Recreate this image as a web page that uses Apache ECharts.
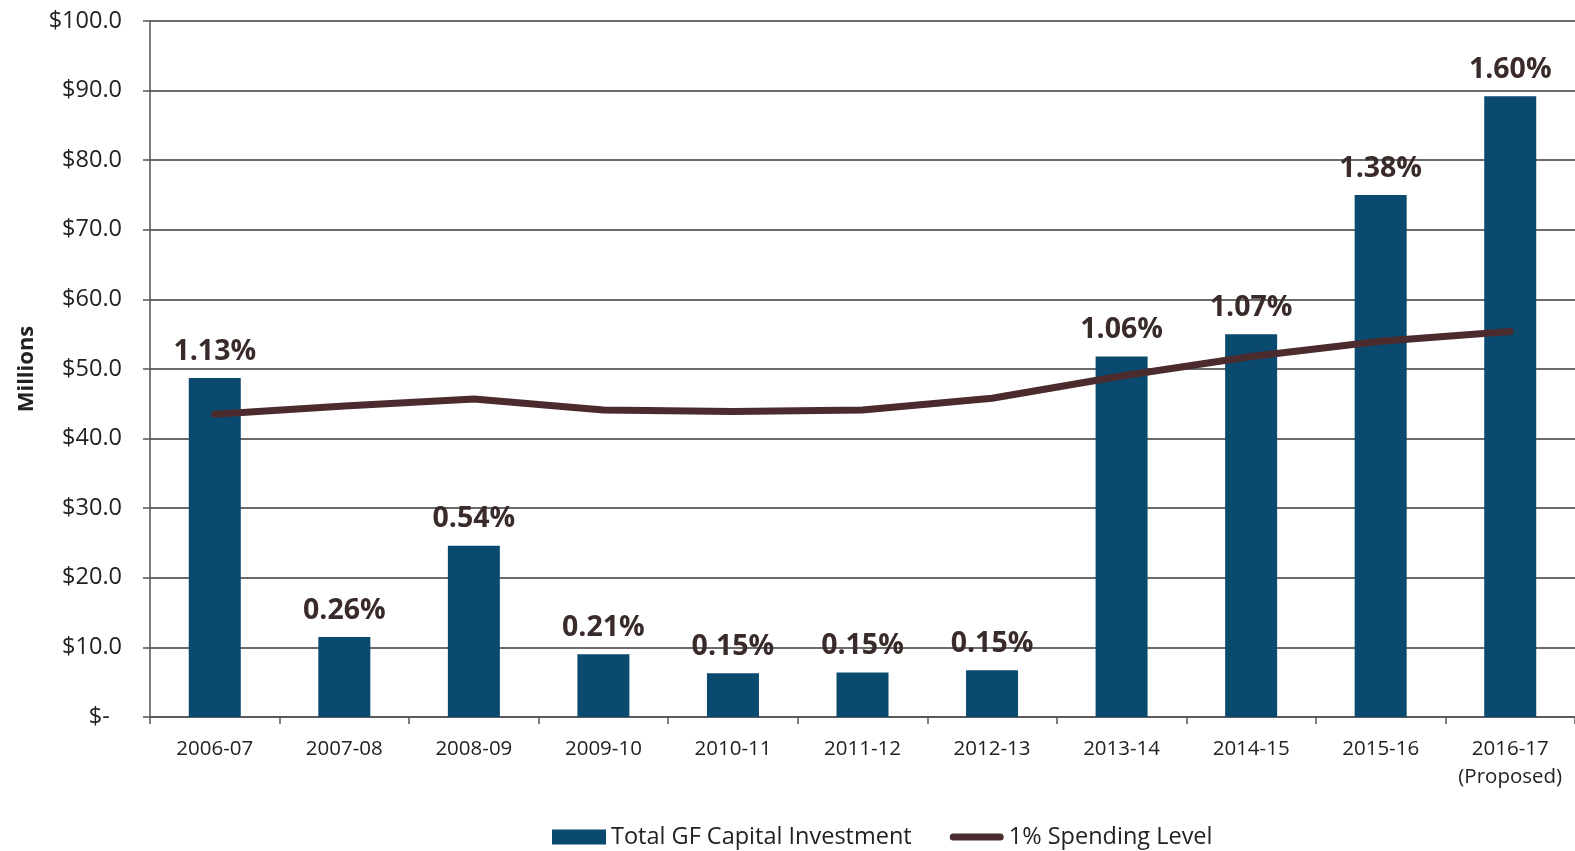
<!DOCTYPE html>
<html>
<head>
<meta charset="utf-8">
<script src="https://cdn.jsdelivr.net/npm/echarts@6/dist/echarts.min.js"></script>
<style>
  html, body { margin: 0; padding: 0; background: #ffffff; }
  #chart { width: 1575px; height: 851px; }
</style>
</head>
<body>
<div id="chart"></div>
<script>
// Fiscal years on the category axis
const years = ['2006-07', '2007-08', '2008-09', '2009-10', '2010-11', '2011-12',
               '2012-13', '2013-14', '2014-15', '2015-16', '2016-17\n(Proposed)'];

// Total General Fund capital investment, $ millions
const capitalInvestment = [48.7, 11.5, 24.6, 9.0, 6.3, 6.4, 6.7, 51.8, 55.0, 75.0, 89.2];

// Investment as a share of the General Fund
const pctOfGF = ['1.13%', '0.26%', '0.54%', '0.21%', '0.15%', '0.15%', '0.15%',
                 '1.06%', '1.07%', '1.38%', '1.60%'];

// What 1% of the General Fund would be, $ millions
const onePctLevel = [43.5, 44.7, 45.7, 44.1, 43.9, 44.1, 45.8, 49.0, 51.8, 54.0, 55.4];

// Y axis: $0 – $100 in steps of 10
const yMin = 0, yMax = 100, yStep = 10;

const FONT = '"Open Sans", Lato, sans-serif';
const BAR = '#0b4a6f';
const LINE = '#4b2b2d';
const TEXT = '#222222';

const chart = echarts.init(document.getElementById('chart'));

chart.setOption({
  animation: false,
  backgroundColor: '#ffffff',
  textStyle: { fontFamily: FONT },
  grid: { left: 150, top: 21, width: 1430, height: 696, containLabel: false },
  legend: {
    top: 820,
    left: 547,
    itemGap: 38,
    itemWidth: 54,
    itemHeight: 15,
    itemTextGap: 4,
    textStyle: { fontFamily: FONT, fontSize: 23.5, color: TEXT },
    data: [
      { name: 'Total GF Capital Investment', icon: 'rect' },
      { name: '1% Spending Level', icon: 'path://M3.5,0 L50.5,0 A3.5,3.5 0 0 1 50.5,7 L3.5,7 A3.5,3.5 0 0 1 3.5,0 Z' }
    ]
  },
  xAxis: {
    type: 'category',
    data: years,
    axisLine: { show: true, lineStyle: { color: '#555', width: 1.5 } },
    axisTick: { show: true, interval: 0, alignWithLabel: false, length: 7, inside: false,
                lineStyle: { color: '#555', width: 1.5 } },
    axisLabel: { interval: 0, fontFamily: FONT, fontSize: 20.5, color: TEXT, margin: 18, lineHeight: 28 }
  },
  yAxis: {
    type: 'value',
    min: yMin, max: yMax, interval: yStep,
    name: 'Millions',
    nameLocation: 'middle',
    nameGap: 112,
    nameRotate: 90,
    nameTextStyle: { fontFamily: FONT, fontSize: 22, fontWeight: 'bold', color: TEXT },
    axisLine: { show: true, lineStyle: { color: '#555', width: 1.5 } },
    axisTick: { show: true, length: 7, lineStyle: { color: '#555', width: 1.5 } },
    splitLine: { show: true, lineStyle: { color: '#3a3a3a', width: 1.5 } },
    axisLabel: {
      fontFamily: FONT, fontSize: 23.5, color: TEXT, margin: 28,
      formatter: v => v === 0 ? '$-  ' : '$' + v.toFixed(1)
    }
  },
  series: [
    {
      name: 'Total GF Capital Investment',
      type: 'bar',
      data: capitalInvestment,
      barWidth: 52,
      itemStyle: { color: BAR },
      label: {
        show: true,
        position: 'top',
        distance: 12,
        fontFamily: FONT,
        fontSize: 28.5,
        fontWeight: 'bold',
        color: '#3a2b2b',
        formatter: p => pctOfGF[p.dataIndex]
      },
      z: 2
    },
    {
      name: '1% Spending Level',
      type: 'line',
      data: onePctLevel,
      symbol: 'none',
      lineStyle: { color: LINE, width: 7, cap: 'round', join: 'round' },
      itemStyle: { color: LINE },
      z: 3
    }
  ]
});
</script>
</body>
</html>
